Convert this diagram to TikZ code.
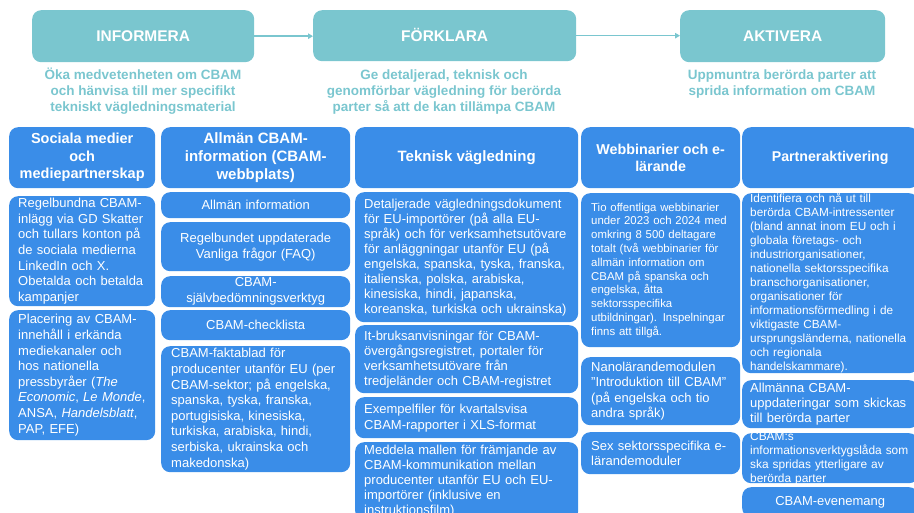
\documentclass[tikz,border=0pt]{standalone}
\usepackage{fontspec}
\setmainfont{Liberation Sans}
\usepackage{tikz}
\usetikzlibrary{arrows.meta,positioning}
\definecolor{cbteal}{RGB}{122,198,207}
\definecolor{cbblue}{RGB}{58,141,232}
\tikzstyle{phase} = [fill=cbteal, rounded corners=9pt, text=white, anchor=north west, text height=11pt, text depth=0pt, font=\bfseries\fontsize{15.5}{18}\selectfont]
\tikzstyle{goal} = [text=cbteal, align=center, font=\bfseries\fontsize{13.5}{16}\selectfont]
\tikzstyle{head} = [fill=cbblue, rounded corners=9pt, text=white, align=center, anchor=north west, minimum height=61pt, inner ysep=0pt, font=\bfseries\fontsize{14.5}{17.5}\selectfont]
\tikzstyle{card} = [fill=cbblue, rounded corners=9pt, text=white, align=left, anchor=north west, inner ysep=0pt, font=\fontsize{13}{15.6}\selectfont]
\tikzstyle{colA} = [minimum width=146pt, inner xsep=9pt, text width=128pt]
\tikzstyle{colB} = [minimum width=189pt, inner xsep=10pt, text width=169pt]
\tikzstyle{colC} = [minimum width=223pt, inner xsep=9pt, text width=205pt]
\tikzstyle{colD} = [minimum width=159pt, inner xsep=10pt, text width=139pt]
\tikzstyle{colE} = [minimum width=176pt, inner xsep=8pt, text width=160pt]
\tikzstyle{flow} = [line width=1.6pt, -{Triangle[length=5pt,width=5.5pt]}, color=cbteal]

\begin{document}
\begin{tikzpicture}[x=1pt,y=-1pt]
\useasboundingbox (0,0) rectangle (914,513);

% Phases
\node[phase, minimum width=222pt, minimum height=52pt] (informera) at (32,10) {INFORMERA};
\node[phase, minimum width=263pt, minimum height=51pt] (forklara) at (313,10) {FÖRKLARA};
\node[phase, minimum width=205pt, minimum height=52pt] (aktivera) at (680,10) {AKTIVERA};
\draw[flow] (informera.east) -- (informera.east -| forklara.west);
\draw[flow] (forklara.east) -- (forklara.east -| aktivera.west);

% Goals
\node[goal] (goalinf) at (143,91) {Öka medvetenheten om CBAM\\och hänvisa till mer specifikt\\tekniskt vägledningsmaterial};
\node[goal] (goalfor) at (444,92) {Ge detaljerad, teknisk och\\genomförbar vägledning för berörda\\parter så att de kan tillämpa CBAM};
\node[goal] (goalakt) at (782,84) {Uppmuntra berörda parter att\\sprida information om CBAM};

% Headers
\node[head, minimum width=146pt] (sochead) at (9,127) {Sociala medier\\och\\mediepartnerskap};
\node[head, minimum width=189pt, font=\bfseries\fontsize{15}{18}\selectfont] (webhead) at (161,127) {Allmän CBAM-\\information (CBAM-\\webbplats)};
\node[head, minimum width=223pt, font=\bfseries\fontsize{15}{18}\selectfont] (teknhead) at (355,127) {Teknisk vägledning};
\node[head, minimum width=159pt, font=\bfseries\fontsize{14.3}{17.5}\selectfont] (larhead) at (581,127) {Webbinarier och e-\\lärande};
\node[head, minimum width=176pt, font=\bfseries\fontsize{14.2}{17.5}\selectfont] (parthead) at (742,127) {Partneraktivering};

% Sociala medier
\node[card, colA, minimum height=110pt] (soc1) at (9,196) {Regelbundna CBAM-\\inlägg via GD Skatter\\och tullars konton på\\de sociala medierna\\LinkedIn och X.\\Obetalda och betalda\\kampanjer};
\node[card, colA, minimum height=130pt] (soc2) at (9,310) {Placering av CBAM-\\innehåll i erkända\\mediekanaler och\\hos nationella\\pressbyråer (\textit{The}\\\textit{Economic}, \textit{Le Monde},\\ANSA, \textit{Handelsblatt},\\PAP, EFE)};

% Allmän information
\node[card, colB, align=center, minimum height=26pt] (web1) at (161,192) {Allmän information};
\node[card, colB, align=center, minimum height=49pt, font=\fontsize{13}{16}\selectfont] (web2) at (161,222) {Regelbundet uppdaterade\\Vanliga frågor (FAQ)};
\node[card, colB, align=center, minimum height=31pt, font=\fontsize{13}{16}\selectfont] (web3) at (161,276) {CBAM-\\självbedömningsverktyg};
\node[card, colB, align=center, minimum height=30pt] (web4) at (161,310) {CBAM-checklista};
\node[card, colB, minimum height=126pt] (web5) at (161,346) {CBAM-faktablad för\\producenter utanför EU (per\\CBAM-sektor; på engelska,\\spanska, tyska, franska,\\portugisiska, kinesiska,\\turkiska, arabiska, hindi,\\serbiska, ukrainska och\\makedonska)};

% Teknisk vägledning
\node[card, colC, minimum height=130pt, font=\fontsize{13}{15}\selectfont] (tekn1) at (355,192) {Detaljerade vägledningsdokument\\för EU-importörer (på alla EU-\\språk) och för verksamhetsutövare\\för anläggningar utanför EU (på\\engelska, spanska, tyska, franska,\\italienska, polska, arabiska,\\kinesiska, hindi, japanska,\\koreanska, turkiska och ukrainska)};
\node[card, colC, minimum height=68pt, font=\fontsize{13}{15}\selectfont] (tekn2) at (355,325) {It-bruksanvisningar för CBAM-\\övergångsregistret, portaler för\\verksamhetsutövare från\\tredjeländer och CBAM-registret};
\node[card, colC, minimum height=41pt, font=\fontsize{13}{16}\selectfont] (tekn3) at (355,397) {Exempelfiler för kvartalsvisa\\CBAM-rapporter i XLS-format};
\node[card, colC, minimum height=78pt, font=\fontsize{13}{15}\selectfont] (tekn4) at (355,442) {Meddela mallen för främjande av\\CBAM-kommunikation mellan\\producenter utanför EU och EU-\\importörer (inklusive en\\instruktionsfilm)};

% Webbinarier
\node[card, colD, minimum height=154pt, font=\fontsize{11.4}{13.8}\selectfont] (lar1) at (581,193) {Tio offentliga webbinarier\\under 2023 och 2024 med\\omkring 8 500 deltagare\\totalt (två webbinarier för\\allmän information om\\CBAM på spanska och\\engelska, åtta\\sektorsspecifika\\utbildningar). Inspelningar\\finns att tillgå.};
\node[card, colD, minimum height=68pt, font=\fontsize{13}{15.5}\selectfont] (lar2) at (581,357) {Nanolärandemodulen\\"Introduktion till CBAM"\\(på engelska och tio\\andra språk)};
\node[card, colD, minimum height=42pt, font=\fontsize{13}{15.5}\selectfont] (lar3) at (581,432) {Sex sektorsspecifika e-\\lärandemoduler};

% Partneraktivering
\node[card, colE, minimum height=180pt, inner ysep=-1pt, font=\fontsize{11.8}{14}\selectfont] (part1) at (742,193) {Identifiera och nå ut till\\berörda CBAM-intressenter\\(bland annat inom EU och i\\globala företags- och\\industriorganisationer,\\nationella sektorsspecifika\\branschorganisationer,\\organisationer för\\informationsförmedling i de\\viktigaste CBAM-\\ursprungsländerna, nationella\\och regionala\\handelskammare).};
\node[card, colE, minimum height=48pt, font=\fontsize{13}{15}\selectfont] (part2) at (742,380) {Allmänna CBAM-\\uppdateringar som skickas\\till berörda parter};
\node[card, colE, minimum height=50pt, inner ysep=-2pt, font=\fontsize{11.9}{14}\selectfont] (part3) at (742,433) {CBAM:s\\informationsverktygslåda som\\ska spridas ytterligare av\\berörda parter};
\node[card, colE, align=center, minimum height=30pt] (part4) at (742,487) {CBAM-evenemang};
\end{tikzpicture}
\end{document}
